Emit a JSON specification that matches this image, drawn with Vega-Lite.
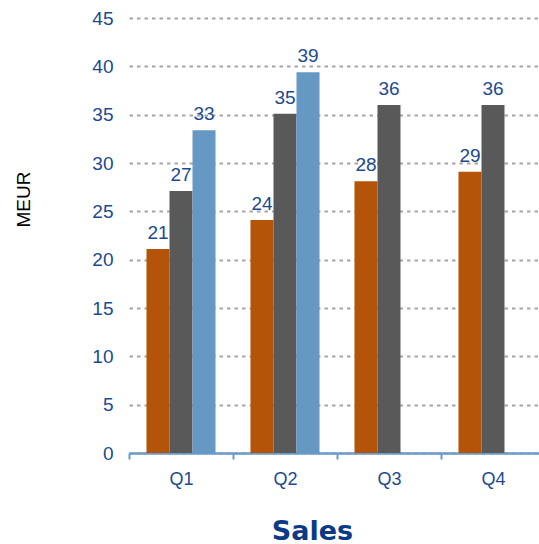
{
  "$schema": "https://vega.github.io/schema/vega-lite/v6.json",
  "width": 410,
  "height": 435,
  "autosize": "none",
  "padding": {"left": 129, "top": 18, "right": 0, "bottom": 91},
  "background": "white",
  "config": {"view": {"stroke": null}, "font": "Liberation Sans"},
  "data": {
    "values": [
      {"quarter": "Q1", "series": "A", "value": 21.1},
      {"quarter": "Q1", "series": "B", "value": 27.1},
      {"quarter": "Q1", "series": "C", "value": 33.4},
      {"quarter": "Q2", "series": "A", "value": 24.1},
      {"quarter": "Q2", "series": "B", "value": 35.1},
      {"quarter": "Q2", "series": "C", "value": 39.4},
      {"quarter": "Q3", "series": "A", "value": 28.1},
      {"quarter": "Q3", "series": "B", "value": 36.0},
      {"quarter": "Q4", "series": "A", "value": 29.1},
      {"quarter": "Q4", "series": "B", "value": 36.0}
    ]
  },
  "encoding": {
    "x": {
      "field": "quarter",
      "type": "nominal",
      "scale": {"paddingInner": 0, "paddingOuter": 0, "range": [0, 416]},
      "axis": {
        "title": "Sales",
        "labelAngle": 0,
        "labelFontSize": 18,
        "labelColor": "#1c4a8f",
        "labelPadding": 11,
        "domainColor": "#6b9bc8",
        "domainWidth": 2.5,
        "tickColor": "#6b9bc8",
        "tickWidth": 2,
        "tickSize": 6,
        "tickBand": "extent",
        "titleFont": "DejaVu Sans",
        "titleFontSize": 27,
        "titleFontWeight": "bold",
        "titleColor": "#0b3a86",
        "titleX": 183,
        "titleY": 86,
        "titleBaseline": "alphabetic",
        "titleAlign": "center"
      }
    },
    "xOffset": {
      "field": "series",
      "type": "nominal",
      "scale": {"domain": ["A", "B", "C"], "paddingInner": 0, "paddingOuter": 0.76}
    },
    "y": {
      "field": "value",
      "type": "quantitative",
      "scale": {"domain": [0, 45], "nice": false},
      "axis": {
        "title": "MEUR",
        "values": [0, 5, 10, 15, 20, 25, 30, 35, 40, 45],
        "domain": false,
        "ticks": false,
        "grid": true,
        "gridDash": [3.5, 4],
        "gridColor": "#a6a6a6",
        "gridWidth": 2,
        "labelFontSize": 19,
        "labelColor": "#1c4a8f",
        "labelPadding": 16,
        "titleFont": "Liberation Sans",
        "titleFontSize": 19,
        "titleFontWeight": "normal",
        "titleColor": "#000000",
        "titleAngle": -90,
        "titleX": -106,
        "titleY": 181,
        "titleBaseline": "middle",
        "titleAlign": "center"
      }
    }
  },
  "layer": [
    {
      "mark": {"type": "bar"},
      "encoding": {
        "color": {
          "field": "series",
          "type": "nominal",
          "scale": {"domain": ["A", "B", "C"], "range": ["#b35408", "#595959", "#6599c3"]},
          "legend": null
        }
      }
    },
    {
      "mark": {"type": "text", "dy": -10, "baseline": "alphabetic", "fontSize": 19, "color": "#1c4a8f"},
      "encoding": {"text": {"field": "value", "type": "quantitative", "format": ".0f"}}
    }
  ]
}
